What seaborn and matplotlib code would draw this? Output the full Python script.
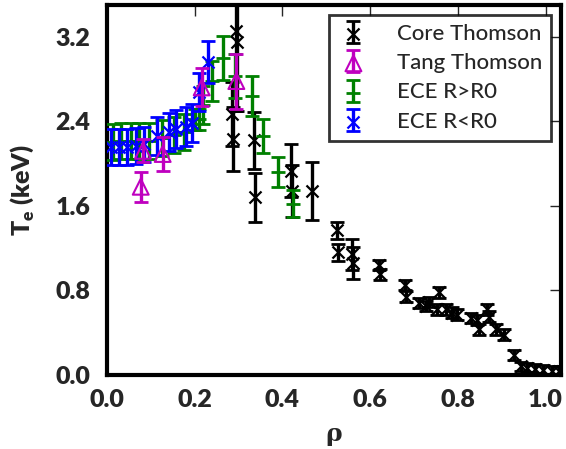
import numpy as np
import matplotlib
matplotlib.use("Agg")
import matplotlib.pyplot as plt
import seaborn as sns
import pandas as pd

# ---------------- data ----------------
core_x = [0.295, 0.296, 0.286, 0.287, 0.336, 0.337, 0.420, 0.421, 0.468,
          0.525, 0.526, 0.558, 0.562, 0.620, 0.622, 0.680, 0.682,
          0.711, 0.727, 0.734, 0.757, 0.752, 0.773, 0.786, 0.798, 0.830,
          0.843, 0.848, 0.866, 0.870, 0.886, 0.905, 0.927, 0.943, 0.957,
          0.977, 0.995, 1.014, 1.030]
core_y = [3.25, 3.15, 2.47, 2.23, 2.22, 1.68, 1.93, 1.74, 1.74,
          1.37, 1.16, 1.14, 1.06, 1.04, 0.95, 0.85, 0.74,
          0.68, 0.65, 0.69, 0.78, 0.62, 0.62, 0.59, 0.57, 0.54,
          0.52, 0.43, 0.62, 0.55, 0.43, 0.38, 0.19, 0.08, 0.07,
          0.06, 0.05, 0.04, 0.04]
core_err = [0.75, 0.65, 0.30, 0.30, 0.27, 0.23, 0.25, 0.25, 0.27,
            0.08, 0.08, 0.15, 0.15, 0.05, 0.05, 0.05, 0.05,
            0.05, 0.05, 0.05, 0.05, 0.05, 0.05, 0.05, 0.05, 0.05,
            0.05, 0.05, 0.05, 0.05, 0.05, 0.05, 0.05, 0.04, 0.04,
            0.04, 0.04, 0.04, 0.04]

tang_x = [0.077, 0.082, 0.127, 0.216, 0.295]
tang_y = [1.78, 2.12, 2.09, 2.72, 2.78]
tang_err = [0.14, 0.11, 0.16, 0.18, 0.26]

ecegt_x = [0.014, 0.033, 0.054, 0.073, 0.096, 0.125, 0.152, 0.175, 0.200,
           0.210, 0.218, 0.240, 0.264, 0.292, 0.330, 0.355, 0.390, 0.425]
ecegt_y = [2.20, 2.21, 2.21, 2.21, 2.21, 2.24, 2.27, 2.30, 2.42,
           2.42, 2.55, 2.78, 3.00, 2.83, 2.64, 2.26, 1.92, 1.62]
ecegt_err = [0.17, 0.17, 0.17, 0.17, 0.17, 0.17, 0.17, 0.17, 0.10,
             0.10, 0.18, 0.19, 0.21, 0.21, 0.19, 0.16, 0.14, 0.13]

ecelt_x = [0.009, 0.027, 0.045, 0.066, 0.084, 0.114, 0.141, 0.157, 0.180,
           0.194, 0.210, 0.230]
ecelt_y = [2.16, 2.16, 2.16, 2.17, 2.18, 2.26, 2.30, 2.33, 2.35,
           2.38, 2.68, 2.96]
ecelt_err = [0.17, 0.17, 0.17, 0.17, 0.17, 0.18, 0.18, 0.18, 0.18,
             0.18, 0.18, 0.20]

labels = ["Core Thomson", "Tang Thomson", "ECE R>R0", "ECE R<R0"]
x_ticks = [0.0, 0.2, 0.4, 0.6, 0.8, 1.0]
y_ticks = [0.0, 0.8, 1.6, 2.4, 3.2]

# ---------------- style ----------------
sns.set_style("white")
plt.rcParams['font.family'] = ['Lato', 'DejaVu Sans']

fig, ax = plt.subplots(figsize=(5.66, 4.49), dpi=100)
fig.subplots_adjust(left=0.189, right=0.991, top=0.989, bottom=0.165)

series = [
    (core_x, core_y, core_err, 'k', 'x', 3),
    (ecegt_x, ecegt_y, ecegt_err, '#008000', '_', 4),
    (ecelt_x, ecelt_y, ecelt_err, '#0000ff', 'x', 5),
    (tang_x, tang_y, tang_err, '#bf00bf', '^', 6),
]
handles = {}
for (xs, ys, es, col, mk, z), lab in zip(series, [labels[0], labels[2], labels[3], labels[1]]):
    df = pd.DataFrame({"x": xs, "y": ys})
    eb = ax.errorbar(xs, ys, yerr=es, fmt='none', ecolor=col, elinewidth=2.4,
                     capsize=5, capthick=2, zorder=z)
    if mk == '^':
        sns.scatterplot(data=df, x="x", y="y", marker='^', s=130,
                        facecolors='none', edgecolor=col, linewidth=1.5,
                        ax=ax, zorder=z + 0.5, legend=False)
    elif mk == '_':
        sns.scatterplot(data=df, x="x", y="y", marker='_', s=100,
                        color=col, linewidth=2, ax=ax, zorder=z + 0.5, legend=False)
    else:
        sns.scatterplot(data=df, x="x", y="y", marker='x', s=75,
                        color=col, linewidth=1.6, ax=ax, zorder=z + 0.5, legend=False)
    handles[lab] = (eb, ax.collections[-1])

ax.set_xlim(0, 1.035)
ax.set_ylim(0, 3.5)
ax.set_xticks(x_ticks)
ax.set_yticks(y_ticks)
ax.set_xticklabels([f"{v:.1f}" for v in x_ticks])
ax.set_yticklabels([f"{v:.1f}" for v in y_ticks])
ax.tick_params(direction='in', length=8, width=1, top=True, right=True,
               labelsize=18)
ax.tick_params(axis='y', pad=12)
ax.tick_params(axis='x', pad=10)
for lbl in ax.get_xticklabels() + ax.get_yticklabels():
    lbl.set_fontweight('heavy')
for sp in ax.spines.values():
    sp.set_linewidth(3)
    sp.set_color('black')

ax.set_xlabel("ρ", fontsize=18, fontweight='bold', family='DejaVu Serif', labelpad=8)
ax.set_ylabel("T$_\\mathregular{e}$ (keV)", fontsize=18, fontweight='heavy', labelpad=14)

leg = ax.legend([handles[l] for l in labels], labels, loc='upper right',
                fontsize=16, frameon=True, fancybox=False, borderpad=0.4,
                handlelength=1.4, handletextpad=1.25, labelspacing=0.42,
                borderaxespad=0.45)
leg.get_frame().set_edgecolor('black')
leg.get_frame().set_linewidth(2)
for t in leg.get_texts():
    t.set_fontweight('medium')

fig.savefig("out.png", dpi=100)
